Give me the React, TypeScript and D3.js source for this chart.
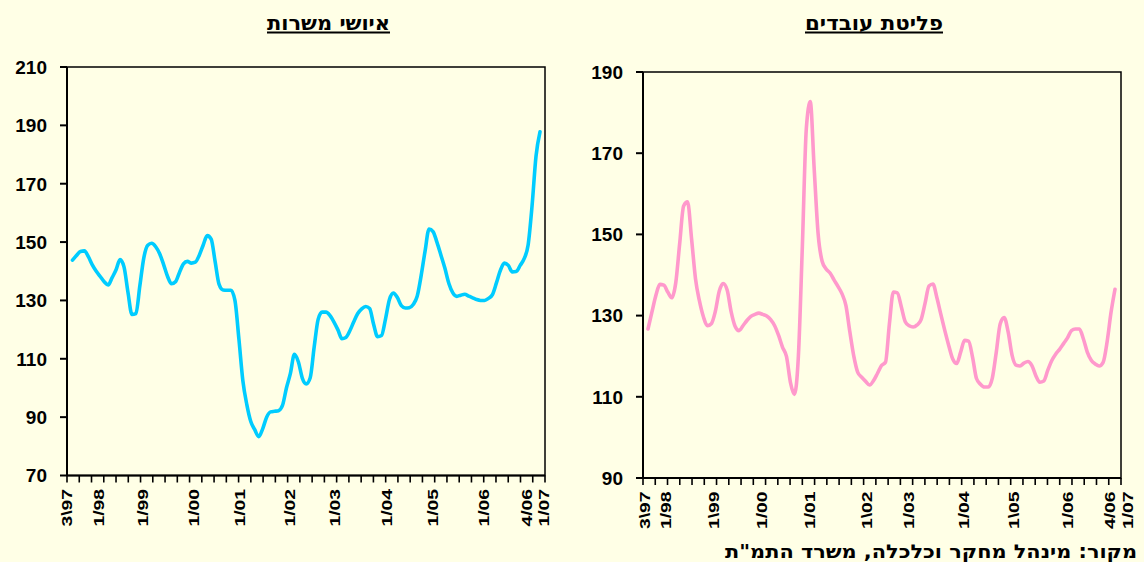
import React from "react";
import * as d3 from "d3";

// Monthly series, 3/1997 .. 1/2007
const vacancies = [
  143.8, 145.4, 146.8, 147, 145, 142.2, 140, 138.2, 136.4, 135.3,
  137.8, 140.5, 144, 141.5, 132.8, 125.2, 125.5, 135, 144.6, 148.9,
  149.6, 148.4, 146, 142.3, 138.2, 135.7, 136.4, 139.6, 142.5, 143.4,
  142.8, 143.1, 145.5, 149, 152.2, 151, 143.3, 135.5, 133.6, 133.5,
  133.5, 130, 116.8, 102.5, 94.3, 88.5, 85.7, 83.3, 86, 90,
  91.8, 92, 92.2, 94, 100, 105, 111.5, 109, 103.4, 101.4,
  103.5, 114, 123.5, 126, 126, 124.8, 122.6, 119.9, 116.9, 117.3,
  119.6, 122.7, 125.5, 127.1, 127.9, 127.2, 121.8, 117.6, 118, 123.6,
  130.3, 132.5, 131, 128.2, 127.4, 127.5, 128.6, 131.4, 138.5, 147,
  154.5, 153.6, 149.9, 145.5, 141, 135.8, 132.6, 131.4, 131.8, 132.1,
  131.5, 130.9, 130.3, 130, 130, 130.7, 132, 136, 140.3, 142.8,
  142, 139.8, 139.9, 142, 144.3, 149, 162.5, 179.5, 187.8,
];

const outflow = [
  126.7, 130.9, 135, 137.7, 137.5, 135.8, 134.4, 138, 147.7, 157,
  158, 149, 139.1, 133.6, 129.7, 127.5, 128, 131, 136, 137.9,
  136.3, 131, 127.4, 126.3, 127.5, 128.8, 129.8, 130.3, 130.6, 130.3,
  129.9, 129, 127.5, 125.1, 122.2, 119.9, 113.5, 110.6, 120, 147,
  176, 182.7, 166, 150, 143.4, 141.5, 140.5, 138.8, 137.2, 135.4,
  132.5, 126, 120, 116, 114.8, 113.8, 112.9, 114, 115.8, 117.7,
  118.5, 128, 135.8, 135.6, 132.2, 128.5, 127.5, 127.2, 127.7, 129,
  133, 137.3, 137.8, 134.4, 130.3, 126.3, 122.6, 119.3, 118.2, 121,
  123.9, 123.7, 119.8, 114.5, 113.1, 112.4, 112.4, 114.6, 121, 128,
  129.5, 126, 120.2, 117.8, 117.6, 118.3, 118.7, 117.7, 115.2, 113.6,
  113.9, 116.5, 118.9, 120.5, 121.7, 123.1, 124.5, 126.3, 126.7, 126.7,
  124.3, 121, 119, 118.1, 117.6, 118.5, 123.5, 130.8, 136.5,
];

const vacancyTicks = [70, 90, 110, 130, 150, 170, 190, 210];
const outflowTicks = [90, 110, 130, 150, 170, 190];

// category labels with their position in quarter-tick units (0..39)
const vacancyLabels = ["3\\97", "1/98", "1/99", "1/00", "1/01", "1/02", "1/03", "1/04", "1/05", "1/06", "4/06", "1/07"];
const vacancyLabelPos = [0.04, 2.6, 6.2, 10.4, 14.1, 18.2, 21.9, 26.1, 29.9, 34.0, 37.5, 38.9];
const outflowLabels = ["3\\97", "1/98", "1\\99", "1/00", "1/01", "1\\02", "1/03", "1/04", "1\\05", "1/06", "4/06", "1/07"];
const outflowLabelPos = [0.15, 1.85, 5.77, 9.7, 13.6, 18.3, 21.7, 26.15, 30.3, 34.7, 38.1, 39.6];

const quarterTicks = d3.range(40);

const BG = "#FFFFE6";
const FONT = "'Liberation Sans', Arial, 'DejaVu Sans', sans-serif";
const HEB_FONT = "'DejaVu Sans', sans-serif";

type PanelProps = {
  title: string;
  titleWidth: number;
  data: number[];
  yDomain: [number, number];
  yTicks: number[];
  labels: string[];
  labelPos: number[];
  x0: number;
  x1: number;
  y0: number;
  y1: number;
  lineX0: number;
  lineX1: number;
  color: string;
  titleX: number;
};

function Panel(p: PanelProps) {
  const y = d3.scaleLinear().domain(p.yDomain).range([p.y1, p.y0]);
  const x = d3.scaleLinear().domain([0, p.data.length - 1]).range([p.lineX0, p.lineX1]);
  const xq = d3.scaleLinear().domain([0, 39]).range([p.x0, p.x1]);
  const line = d3
    .line<number>()
    .x((_, i) => x(i))
    .y((d) => y(d))
    .curve(d3.curveMonotoneX);
  return (
    <g>
      <text
        x={p.titleX}
        y={29.5}
        textAnchor="middle"
        fontFamily={HEB_FONT}
        fontWeight="bold"
        fontSize={20}
        direction="rtl"
        textLength={p.titleWidth}
        lengthAdjust="spacingAndGlyphs"
        fill="#000"
      >
        {p.title}
      </text>
      <line
        x1={p.titleX - p.titleWidth / 2}
        x2={p.titleX + p.titleWidth / 2}
        y1={32.5}
        y2={32.5}
        stroke="#000"
        strokeWidth={2}
      />
      <rect x={p.x0} y={p.y0} width={p.x1 - p.x0} height={p.y1 - p.y0} fill={BG} stroke="#000" strokeWidth={1.5} />
      <path d={line(p.data) || ""} fill="none" stroke={p.color} strokeWidth={3.6} strokeLinejoin="round" strokeLinecap="round" />
      <line x1={p.x0} x2={p.x0} y1={p.y0} y2={p.y1} stroke="#000" strokeWidth={2} />
      <line x1={p.x0} x2={p.x1} y1={p.y1} y2={p.y1} stroke="#000" strokeWidth={2} />
      {p.yTicks.map((t) => (
        <g key={t}>
          <line x1={p.x0 - 7} x2={p.x0} y1={y(t)} y2={y(t)} stroke="#000" strokeWidth={2} />
          <text
            x={p.x0 - 20}
            y={y(t)}
            dy="0.36em"
            textAnchor="end"
            fontFamily={FONT}
            fontWeight="bold"
            fontSize={19}
            fill="#000"
          >
            {t}
          </text>
        </g>
      ))}
      {quarterTicks.map((q) => (
        <line key={q} x1={xq(q)} x2={xq(q)} y1={p.y1} y2={p.y1 + 7} stroke="#000" strokeWidth={1.6} />
      ))}
      {p.labels.map((l, i) => (
        <text
          key={l + i}
          transform={`translate(${xq(p.labelPos[i]) + 5},${p.y1 + 51}) rotate(-90) scale(1.38,1)`}
          textAnchor="start"
          fontFamily={FONT}
          fontWeight="bold"
          fontSize={14}
          fill="#000"
        >
          {l}
        </text>
      ))}
    </g>
  );
}

export default function App() {
  return (
    <div>
      <style>{`body{margin:0;background:${BG};}`}</style>
      <svg width={1144} height={562} style={{ display: "block", background: BG }}>
        <rect x={0} y={0} width={1144} height={562} fill={BG} />
        <Panel
          title="איושי משרות"
          titleWidth={123}
          data={vacancies}
          yDomain={[70, 210]}
          yTicks={vacancyTicks}
          labels={vacancyLabels}
          labelPos={vacancyLabelPos}
          x0={67}
          x1={545}
          y0={67}
          y1={475.5}
          lineX0={72.5}
          lineX1={540}
          color="#00CCFF"
          titleX={328.5}
        />
        <Panel
          title="פליטת עובדים"
          titleWidth={138}
          data={outflow}
          yDomain={[90, 190]}
          yTicks={outflowTicks}
          labels={outflowLabels}
          labelPos={outflowLabelPos}
          x0={643}
          x1={1121}
          y0={72}
          y1={478}
          lineX0={648}
          lineX1={1115}
          color="#FF99CC"
          titleX={874}
        />
        <text
          x={931}
          y={557.5}
          textAnchor="middle"
          direction="rtl"
          fontFamily={HEB_FONT}
          fontWeight="bold"
          fontSize={19}
          textLength={412}
          lengthAdjust="spacingAndGlyphs"
          fill="#000"
        >
          מקור: מינהל מחקר וכלכלה, משרד התמ"ת
        </text>
      </svg>
    </div>
  );
}
